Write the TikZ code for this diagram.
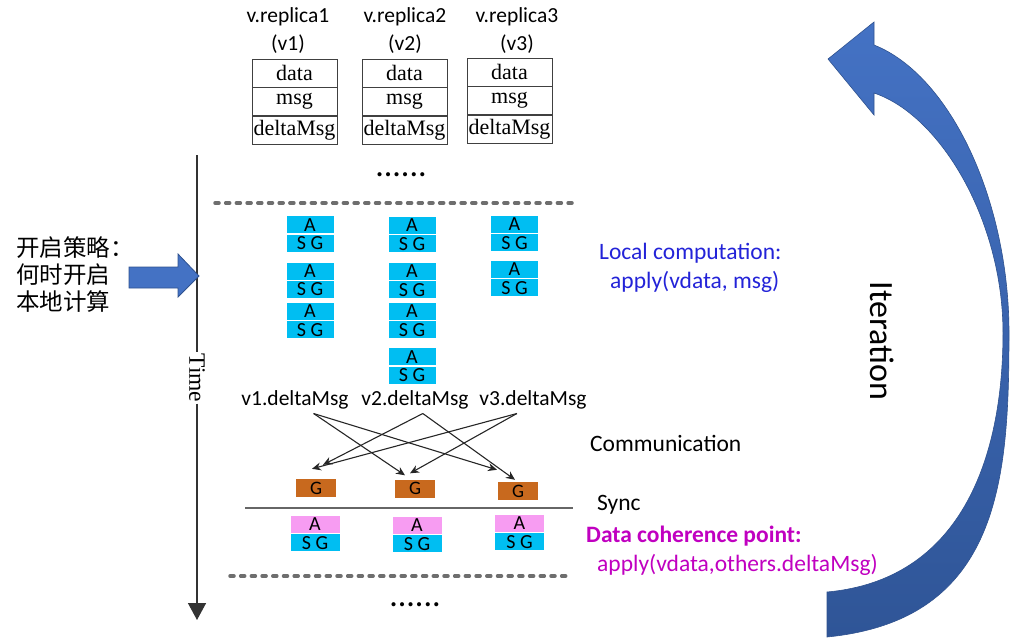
\documentclass[tikz,border=0pt]{standalone}
\usepackage{fontspec}
\setmainfont{Carlito}
\newfontfamily\tnrfont{Liberation Serif}
\newfontfamily\cjkfont{Noto Sans CJK SC}
\usetikzlibrary{positioning, arrows.meta}
\definecolor{cellblue}{HTML}{00BEF2}
\definecolor{cellpink}{HTML}{F79CF2}
\definecolor{gorange}{HTML}{C8691E}
\definecolor{sepgray}{HTML}{6E6E6E}
\definecolor{localblue}{HTML}{2323D8}
\definecolor{cohmag}{HTML}{C000C0}
\definecolor{itertop}{HTML}{4472C4}
\definecolor{iterbot}{HTML}{2F5597}
\definecolor{iteredge}{HTML}{2F528F}

\begin{document}
\begin{tikzpicture}[x=1pt, y=-1pt, >={Stealth[length=9pt, width=8pt]},
    cell/.style={draw=black!75, line width=0.6pt, minimum width=85pt, minimum height=28pt, inner sep=0pt, font=\tnrfont\fontsize{22}{24}\selectfont},
    title/.style={align=center, font=\fontsize{21.5}{28}\selectfont},
    ahalf/.style={fill=cellblue, draw=white, line width=0.5pt, minimum width=48pt, minimum height=18pt, inner sep=0pt, text height=13pt, text depth=0pt, font=\fontsize{20}{20}\selectfont},
    gbox/.style={fill=gorange, minimum width=40pt, minimum height=18pt, inner sep=0pt, font=\fontsize{19}{19}\selectfont},
    dmsg/.style={inner sep=4pt, font=\fontsize{21.5}{24}\selectfont},
    lbl/.style={anchor=west, inner sep=0pt, font=\fontsize{23.5}{26}\selectfont},
    sepline/.style={sepgray, line width=3.5pt, line cap=round, dash pattern=on 4pt off 6.7pt},
    msgarr/.style={->, black!85, line width=1.1pt},
]
  \useasboundingbox (0,0) rectangle (1010,638);

  % === Replica tables ===
  \node[title] (rep1) at (288,31) {v.replica1\\(v1)};
  \node[title] (rep2) at (405,31) {v.replica2\\(v2)};
  \node[title] (rep3) at (517,31) {v.replica3\\(v3)};
  \node[cell] (data1) at (294.5,73) {data};
  \node[cell, below=0pt of data1] (msg1) {msg};
  \node[cell, below=0pt of msg1] (dm1cell) {deltaMsg};
  \node[cell] (data2) at (404.5,73) {data};
  \node[cell, below=0pt of data2] (msg2) {msg};
  \node[cell, below=0pt of msg2] (dm2cell) {deltaMsg};
  \node[cell] (data3) at (509.5,72) {data};
  \node[cell, below=0pt of data3] (msg3) {msg};
  \node[cell, below=0pt of msg3] (dm3cell) {deltaMsg};
  \node[font=\fontsize{34}{36}\selectfont] (dotstop) at (401,175) {......};

  % === Time axis and strategy ===
  \node[rotate=-90, fill=white, inner sep=1pt, font=\tnrfont\fontsize{23.5}{26}\selectfont] (time) at (197,378) {Time};
  \coordinate (ttop) at (197,155);
  \coordinate (tbot) at (197,620);
  \draw[black!80, line width=1.5pt, -{Triangle[width=18pt, length=17pt]}] (ttop) -- (time) -- (tbot);
  \node[anchor=west, align=left, inner sep=0pt, font=\cjkfont\fontsize{23.5}{27}\selectfont] (strategy) at (16,275) {开启策略：\\何时开启\\本地计算};
  \draw[fill=itertop, draw=iteredge, line width=0.8pt]
    (129,267) -- (178,267) -- (178,254) -- (199,276) -- (178,297) -- (178,288) -- (129,288) -- cycle;

  % === Local computation ===
  \draw[sepline] (215,203) -- (572,203);
  \node[ahalf] (b11a) at (310,224.5) {A};      \node[ahalf, below=0pt of b11a] (b11s) {S G};
  \node[ahalf] (b12a) at (310,270.75) {A};     \node[ahalf, below=0pt of b12a] (b12s) {S G};
  \node[ahalf] (b13a) at (310,311) {A};        \node[ahalf, below=0pt of b13a] (b13s) {S G};
  \node[ahalf] (b21a) at (412,225) {A};        \node[ahalf, below=0pt of b21a] (b21s) {S G};
  \node[ahalf] (b22a) at (412,271) {A};        \node[ahalf, below=0pt of b22a] (b22s) {S G};
  \node[ahalf] (b23a) at (412,311) {A};        \node[ahalf, below=0pt of b23a] (b23s) {S G};
  \node[ahalf] (b24a) at (412,356.5) {A};      \node[ahalf, below=0pt of b24a] (b24s) {S G};
  \node[ahalf] (b31a) at (514.5,224) {A};      \node[ahalf, below=0pt of b31a] (b31s) {S G};
  \node[ahalf] (b32a) at (514.5,269) {A};      \node[ahalf, below=0pt of b32a] (b32s) {S G};
  \node[lbl, text=localblue] (local) at (599,253) {Local computation:};
  \node[lbl, text=localblue] (localfn) at (610,282) {apply(vdata, msg)};

  % === Communication ===
  \node[dmsg] (dm1) at (295,400) {v1.deltaMsg};
  \node[dmsg] (dm2) at (415,400) {v2.deltaMsg};
  \node[dmsg] (dm3) at (533,400) {v3.deltaMsg};
  \node[gbox] (g1) at (316,488) {G};
  \node[gbox] (g2) at (415,488.5) {G};
  \node[gbox] (g3) at (518,491) {G};
  \draw[msgarr] (dm1.-36) -- ([xshift=-10pt, yshift=4pt]g2.north);
  \draw[msgarr] (dm1.-36) -- ([xshift=-21pt, yshift=12pt]g3.north);
  \draw[msgarr] (dm2.-60) -- ([xshift=7pt, yshift=14pt]g1.north);
  \draw[msgarr] (dm2.-60) -- ([xshift=-3pt, yshift=2pt]g3.north);
  \draw[msgarr] (dm3.-140) -- ([xshift=-4pt, yshift=10pt]g1.north);
  \draw[msgarr] (dm3.-140) -- ([xshift=-5pt, yshift=6pt]g2.north);
  \node[lbl] (comm) at (590,443) {Communication};

  % === Sync ===
  \draw[black!60, line width=2pt] (245,508) -- (573,508);
  \node[lbl] (sync) at (597,505) {Sync};
  \node[ahalf, fill=cellpink, minimum width=50pt] (p1a) at (315,524) {A};
  \node[ahalf, minimum width=50pt, below=0pt of p1a] (p1s) {S G};
  \node[ahalf, fill=cellpink, minimum width=50pt] (p2a) at (417,525) {A};
  \node[ahalf, minimum width=50pt, below=0pt of p2a] (p2s) {S G};
  \node[ahalf, fill=cellpink, minimum width=50pt] (p3a) at (519.5,523) {A};
  \node[ahalf, minimum width=50pt, below=0pt of p3a] (p3s) {S G};
  \node[lbl, text=cohmag, font=\bfseries\fontsize{23.5}{26}\selectfont] (coh) at (586,536) {Data coherence point:};
  \node[lbl, text=cohmag] (cohfn) at (597,565) {apply(vdata,others.deltaMsg)};
  \draw[sepline] (230,576) -- (566,576);
  \node[font=\fontsize{34}{36}\selectfont] (dotsbot) at (415,605) {......};

  % === Iteration arrow ===
  \draw[top color=itertop, bottom color=iterbot, draw=iteredge, line width=0.6pt]
    (874,45) .. controls (950,75) and (1009,200) .. (1009,333)
    .. controls (1009,480) and (1000,620) .. (827,637)
    -- (827,592)
    .. controls (960,580) and (1003,460) .. (1003,333)
    .. controls (1003,220) and (940,115) .. (874,93)
    -- (874,115) -- (828,59) -- (874,22) -- cycle;
  \node[rotate=-90, font=\fontsize{34}{36}\selectfont] (iter) at (882,341) {Iteration};
\end{tikzpicture}
\end{document}
